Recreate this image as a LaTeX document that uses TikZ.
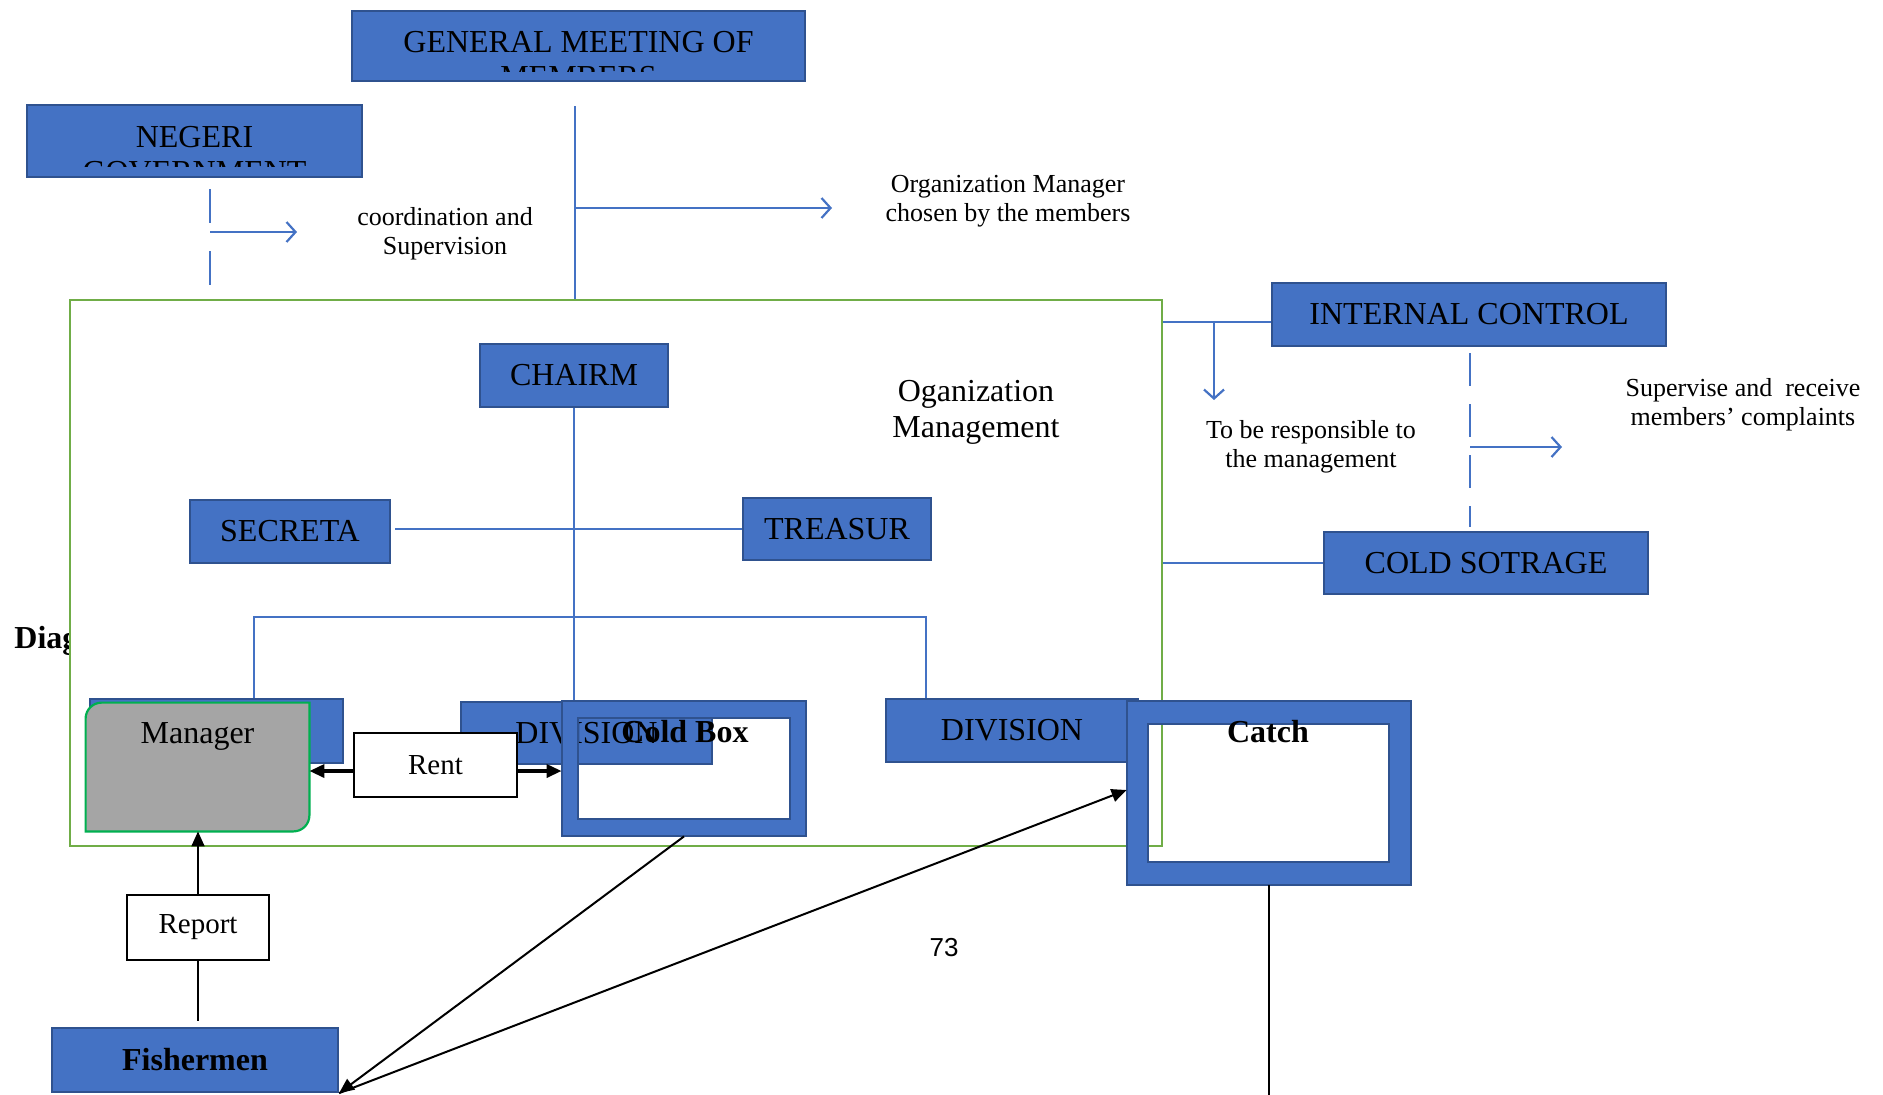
\documentclass[tikz,border=0pt]{standalone}
\usepackage{fontspec}
\setmainfont{Liberation Serif}
\newfontfamily\pagefont{Liberation Sans}
\usetikzlibrary{arrows.meta,positioning,calc}
\definecolor{boxfill}{HTML}{4472C4}
\definecolor{boxline}{HTML}{2F528F}
\definecolor{grnline}{HTML}{70AD47}
\definecolor{mgrgray}{HTML}{A5A5A5}
\definecolor{mgrline}{HTML}{00B050}

\begin{document}
\begin{tikzpicture}[x=0.5pt,y=-0.5pt,
  box/.style={rectangle,fill=boxfill,draw=boxline,line width=1.1pt,inner sep=0pt,font=\fontsize{16}{17.5}\selectfont},
  wbox/.style={rectangle,fill=white,draw=black,line width=0.6pt,inner sep=0pt,font=\fontsize{14.5}{17}\selectfont},
  note/.style={align=center,inner sep=0pt,font=\fontsize{13}{14.5}\selectfont},
  big/.style={align=center,inner sep=0pt,font=\fontsize{16}{17.5}\selectfont},
  bold/.style={inner sep=0pt,font=\bfseries\fontsize{16}{19}\selectfont},
  link/.style={draw=boxfill,line width=0.65pt},
  flow/.style={draw=boxfill,line width=1.1pt,-{Straight Barb[length=4.5pt,width=10pt]}},
  blk/.style={draw=black,line width=1pt},
  push/.style={draw=black,line width=1pt,-{Triangle[length=7.5pt,width=6.5pt]}},
  heavy/.style={draw=black,line width=1.7pt,-{Triangle[length=7.5pt,width=6.5pt]}},
  frm/.style={fill=boxfill,draw=boxline,line width=1pt,even odd rule}]
\useasboundingbox (0,0) rectangle (1883,1094);
\node[bold,anchor=base west] (cap) at (14,648) {Diagram};
\node[draw=grnline,line width=1.25pt,fill=white,minimum width=546pt,minimum height=273pt,inner sep=0pt] (org) at (616,573) {};
\node[box,minimum width=226.5pt,minimum height=35pt] (gm) at (578.5,46) {};
\begin{scope}
\clip (gm.north west) rectangle ($(gm.south east)+(0,-11)$);
\node[big,anchor=base] (gmtxt) at (578.5,87) {GENERAL MEETING OF\\MEMBERS};
\end{scope}
\node[box,minimum width=167.5pt,minimum height=36pt] (ng) at (194.5,141) {};
\begin{scope}
\clip (ng.north west) rectangle ($(ng.south east)+(0,-12)$);
\node[big,anchor=base] (ngtxt) at (194.5,182) {NEGERI\\GOVERNMENT};
\end{scope}
\coordinate (ngA) at (210,189);
\coordinate (ngB) at (210,285);
\coordinate (coA) at (210,232);
\draw[link,dash pattern=on 17pt off 14pt] (ngA) -- (ngB);
\draw[flow] (coA) -- ++(87,0);
\node[note] (conote) at (445,234) {coordination and\\Supervision};
\coordinate (gmA) at (575,106);
\coordinate (omA) at (575,208);
\draw[link] (gmA) -- (gmA |- org.north);
\draw[flow] (omA) -- ++(257,0);
\node[note] (omnote) at (1008,201) {Organization Manager\\chosen by the members};
\node[box,minimum width=197pt,minimum height=31.5pt] (ic) at (1469,314.5) {INTERNAL CONTROL};
\node[box,minimum width=162pt,minimum height=31pt] (cs) at (1486,563) {COLD SOTRAGE};
\coordinate (icy) at (1214,322);
\draw[link] (org.east |- icy) -- (ic.west |- icy);
\draw[flow] (icy) -- ++(0,78);
\node[note] (resp) at (1311,447) {To be responsible to\\the management};
\coordinate (icA) at (1470,353);
\coordinate (icB) at (1470,527);
\coordinate (supA) at (1470,447);
\draw[link,dash pattern=on 16.5pt off 9pt] (icA) -- (icB);
\draw[flow] (supA) -- ++(92,0);
\node[note] (supnote) at (1743,405) {Supervise and~ receive\\members' complaints};
\draw[link] (org.east |- cs) -- (cs.west);
\node[big,font=\fontsize{16}{18}\selectfont] (ognote) at (976,412) {Oganization\\Management};
\node[box,minimum width=94pt,minimum height=31.5pt] (ch) at (574,375.5) {CHAIRM};
\node[box,minimum width=100pt,minimum height=31.5pt] (sec) at (290,531.5) {SECRETA};
\node[box,minimum width=94pt,minimum height=31pt] (tre) at (837,529) {TREASUR};
\node[box,minimum width=126.5pt,minimum height=32pt] (dv1) at (216.5,731) {DIVISION};
\node[box,minimum width=125.5pt,minimum height=31pt] (dv2) at (586.5,733) {DIVISION};
\node[box,minimum width=126pt,minimum height=31.5pt] (dv3) at (1012,730.5) {DIVISION};
\coordinate (barL) at (254,617);
\coordinate (barR) at (926,617);
\draw[link] ([xshift=2pt]sec.east |- tre.west) -- (tre.west);
\draw[link] (ch.south) -- (ch.south |- dv2.north);
\draw[link] (barL |- dv1.north) -- (barL) -- (barR) -- (barR |- dv3.north);
\node[minimum width=111.5pt,minimum height=64pt,inner sep=0pt] (mgr) at (197.5,767) {};
\draw[fill=mgrgray,draw=mgrline,line width=1.1pt] (mgr.south west) -- ([yshift=-8pt]mgr.north west)
  arc[start angle=180,end angle=90,radius=8pt] -- (mgr.north east) -- ([yshift=8pt]mgr.south east)
  arc[start angle=0,end angle=-90,radius=8pt] -- cycle;
\node[big,anchor=base] (mgrtxt) at (197.5,743) {Manager};
\node[minimum width=122pt,minimum height=67.5pt,inner sep=0pt] (cb) at (684,768.5) {};
\path[frm] (cb.north west) rectangle (cb.south east) ($(cb.north west)+(16,17)$) rectangle ($(cb.south east)+(-16,-17)$);
\node[bold,anchor=base] (cbtxt) at (685,742) {Cold Box};
\node[minimum width=142pt,minimum height=92pt,inner sep=0pt] (ca) at (1269,793) {};
\path[frm] (ca.north west) rectangle (ca.south east) ($(ca.north west)+(21,23)$) rectangle ($(ca.south east)+(-22,-23)$);
\node[bold,anchor=base] (catxt) at (1268,742) {Catch};
\node[wbox,minimum width=81.5pt,minimum height=32pt] (rent) at (435.5,765) {Rent};
\draw[heavy] ([yshift=-3pt]rent.west) -- ([yshift=-3pt]rent.west -| mgr.east);
\draw[heavy] ([yshift=-3pt]rent.east) -- ([yshift=-3pt]rent.east -| cb.west);
\node[wbox,minimum width=71pt,minimum height=32.5pt] (rep) at (198,927.5) {Report};
\node[box,bold,minimum width=143pt,minimum height=32pt] (fish) at (195,1060) {Fishermen};
\draw[blk] (rep.south) -- ([yshift=3pt]rep.south |- fish.north);
\draw[push] (rep.north) -- (rep.north |- mgr.south);
\draw[push] (cb.south) -- (fish.south east);
\draw[push] (fish.south east) -- ([yshift=1.5pt]ca.west);
\coordinate (caEnd) at (1270,1100);
\draw[blk] (ca.south) -- (ca.south |- caEnd);
\node[inner sep=0pt,font=\pagefont\fontsize{13}{15}\selectfont] (pg) at (944,948) {73};
\end{tikzpicture}
\end{document}
